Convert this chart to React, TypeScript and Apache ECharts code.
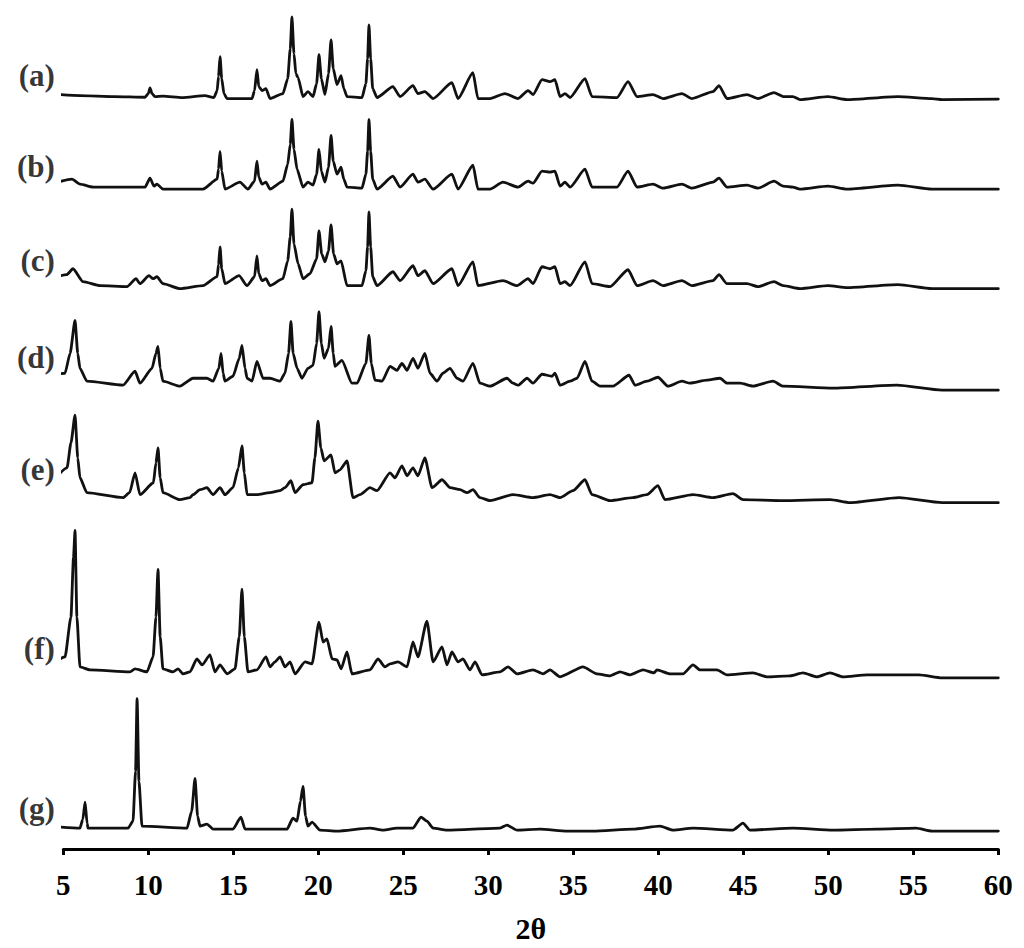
import React, { useEffect, useRef } from "react";
import * as echarts from "echarts";

// 2θ axis
const X_MIN = 5;
const X_MAX = 60;
const X_INTERVAL = 5;
const X_NAME = "2θ";

// Pattern labels, top to bottom
const patternLabels = ["(a)", "(b)", "(c)", "(d)", "(e)", "(f)", "(g)"];

// Vertical offset of each pattern (a.u.)
const offsets = [754, 663, 563, 463, 348, 173, 18];

// Pattern intensities [2θ, intensity a.u.]
const patternA: number[][] = [
  [4.12, 4.7], [6, 3], [8, 2], [9.81, 1.3], [10.0, 5], [10.1, 10.7], [10.22, 5], [10.39, 2], [10.86, 2.5],
  [12, 1], [13.33, 3], [13.86, 1], [14.05, 8], [14.13, 22], [14.22, 42], [14.32, 20], [14.45, 5], [14.63, 0],
  [16.1, 0], [16.25, 8], [16.39, 29], [16.5, 12], [16.69, 8], [16.92, 10], [17.16, 0], [17.92, 5], [18.2, 20],
  [18.35, 50], [18.45, 82], [18.57, 45], [18.68, 25], [18.81, 21], [19.1, 2], [19.39, 7], [19.69, 2], [19.9, 15],
  [20.04, 44], [20.18, 20], [20.39, 4], [20.6, 25], [20.75, 59], [20.88, 30], [21.1, 14], [21.34, 23], [21.5, 10],
  [21.69, 2], [22.57, 1], [22.8, 15], [22.9, 40], [22.98, 74], [23.08, 40], [23.2, 10], [23.45, 1], [24.39, 12],
  [24.81, 2], [25.57, 13], [25.86, 5], [26.27, 7], [26.75, 0], [27.86, 16], [28.22, 0], [29.1, 26], [29.39, 0],
  [30.1, 0], [30.98, 5], [31.75, 0], [32.34, 8], [32.63, 4], [33.16, 19], [33.63, 17], [33.92, 19], [34.22, 2],
  [34.51, 5], [34.81, 1], [35.69, 20], [36.1, 2], [37.57, 1], [38.22, 17], [38.75, 2], [39.69, 4], [40.28, 0],
  [41.39, 5], [41.98, 0], [43.22, 7], [43.57, 13], [44.04, 0], [45.22, 4], [45.86, 0], [46.81, 6], [47.34, 2],
  [47.92, 2], [48.33, -1], [49.98, 2], [51.1, -1], [54.1, 2], [56.1, 0], [56.69, -1], [60, -0.5],
];

const patternB: number[][] = [
  [4.12, 4.3], [5.51, 10], [5.98, 5], [6.75, 2], [9.81, 2], [10.1, 11], [10.34, 3], [10.51, 5], [10.86, 0],
  [13.22, 0], [14.05, 10], [14.13, 20], [14.22, 38], [14.32, 18], [14.51, 0], [15.39, 7], [15.86, 0], [16.25, 8],
  [16.39, 28], [16.5, 12], [16.69, 5], [16.92, 7], [17.16, 0], [17.92, 8], [18.2, 25], [18.35, 45], [18.45, 70],
  [18.57, 40], [18.75, 20], [19.1, 2], [19.39, 7], [19.69, 4], [19.9, 15], [20.04, 40], [20.18, 18], [20.39, 7],
  [20.6, 22], [20.75, 54], [20.88, 28], [21.1, 15], [21.34, 22], [21.5, 10], [21.69, 2], [22.57, 1], [22.8, 15],
  [22.9, 38], [22.98, 70], [23.08, 38], [23.2, 10], [23.45, 0], [24.39, 13], [24.81, 2], [25.57, 15], [25.86, 7],
  [26.27, 10], [26.75, 0], [27.86, 15], [28.22, 0], [29.1, 24], [29.39, 0], [30.1, 0], [30.86, 7], [31.75, 2],
  [32.34, 8], [32.63, 6], [33.16, 18], [33.63, 17], [33.92, 18], [34.22, 3], [34.51, 7], [34.81, 2], [35.69, 20],
  [36.1, 2], [37.57, 2], [38.22, 18], [38.75, 2], [39.69, 5], [40.28, 1], [41.39, 5], [41.98, 1], [43.22, 7],
  [43.57, 11], [44.04, 2], [45.22, 4], [45.86, 1], [46.81, 8], [47.34, 3], [47.92, 2], [48.33, 0], [49.98, 3],
  [51.1, 0], [54.1, 4], [56.1, 0], [60, 0],
];

const patternC: number[][] = [
  [4.12, 10], [5.2, 14], [5.57, 20], [6.16, 7], [7.16, 3], [8.75, 2], [9.28, 10], [9.51, 5], [10.04, 13],
  [10.28, 10], [10.51, 12], [10.86, 5], [11.86, 0], [13.22, 3], [14.05, 12], [14.13, 24], [14.22, 42], [14.32, 20],
  [14.51, 5], [15.34, 13], [15.81, 3], [16.25, 12], [16.39, 33], [16.5, 15], [16.69, 8], [16.92, 10], [17.16, 3],
  [17.92, 10], [18.2, 28], [18.35, 52], [18.45, 80], [18.57, 45], [18.81, 25], [19.1, 10], [19.51, 15], [19.9, 30],
  [20.04, 58], [20.2, 35], [20.39, 27], [20.6, 38], [20.75, 64], [20.9, 35], [21.1, 25], [21.34, 28], [21.69, 3],
  [22.57, 3], [22.8, 18], [22.9, 42], [22.98, 77], [23.08, 42], [23.2, 12], [23.45, 3], [24.39, 17], [24.81, 8],
  [25.57, 23], [25.86, 13], [26.27, 18], [26.75, 5], [27.86, 20], [28.22, 3], [29.1, 27], [29.39, 3], [30.86, 8],
  [31.69, 3], [32.34, 10], [32.63, 5], [33.16, 22], [33.63, 20], [33.92, 22], [34.22, 5], [34.51, 7], [34.81, 3],
  [35.69, 27], [36.1, 5], [37.16, 2], [38.22, 19], [38.75, 3], [39.69, 8], [40.28, 3], [41.39, 8], [41.98, 3],
  [43.22, 8], [43.57, 14], [44.04, 5], [45.22, 5], [45.86, 2], [46.81, 7], [47.34, 3], [48.33, 0], [49.98, 3],
  [51.1, 1], [54.1, 4], [56.1, 0], [60, 0],
];

const patternD: number[][] = [
  [4.12, 13], [5.1, 15], [5.4, 35], [5.69, 68], [5.85, 35], [5.98, 20], [6.39, 7], [8.51, 3], [9.22, 17],
  [9.51, 5], [10.22, 20], [10.45, 35], [10.57, 42], [10.7, 20], [10.86, 7], [11.86, 2], [12.63, 10], [13.45, 10],
  [13.81, 7], [14.15, 20], [14.28, 35], [14.4, 15], [14.51, 7], [14.98, 12], [15.35, 30], [15.51, 43], [15.69, 20],
  [15.81, 10], [16.1, 7], [16.39, 27], [16.75, 10], [17.16, 10], [17.75, 7], [18.04, 15], [18.25, 35], [18.39, 67],
  [18.52, 35], [18.75, 20], [19.04, 10], [19.39, 20], [19.69, 23], [19.9, 45], [20.04, 77], [20.18, 45],
  [20.34, 30], [20.6, 40], [20.75, 62], [20.88, 35], [20.98, 22], [21.39, 28], [21.98, 5], [22.28, 5], [22.8, 25],
  [22.98, 53], [23.12, 25], [23.33, 8], [23.75, 7], [24.22, 22], [24.63, 18], [24.92, 25], [25.22, 18], [25.57, 30],
  [25.86, 20], [26.27, 35], [26.57, 15], [26.98, 7], [27.33, 15], [27.75, 20], [28.16, 10], [28.51, 7], [29.1, 25],
  [29.51, 5], [30.1, 2], [31.1, 10], [31.45, 5], [31.75, 3], [32.28, 10], [32.63, 5], [33.16, 14], [33.75, 12],
  [33.92, 15], [34.22, 3], [34.81, 7], [35.22, 10], [35.69, 27], [36.1, 7], [36.57, 2], [37.33, 2], [38.28, 13],
  [38.63, 3], [39.33, 7], [39.98, 11], [40.57, 2], [41.39, 7], [41.86, 5], [42.86, 8], [43.63, 10], [44.04, 5],
  [44.81, 5], [45.57, 2], [46.75, 7], [47.34, 2], [50.28, 0], [54.04, 3], [56.69, -2], [60, -2],
];

const patternE: number[][] = [
  [4.12, 15], [5.22, 35], [5.45, 60], [5.69, 88], [5.85, 45], [5.98, 25], [6.39, 10], [8.51, 5], [8.9, 10],
  [9.22, 30], [9.51, 8], [10.3, 20], [10.45, 40], [10.57, 55], [10.7, 25], [10.86, 10], [11.86, 3], [12.45, 5],
  [12.63, 8], [13.04, 13], [13.45, 15], [13.81, 8], [14.22, 15], [14.51, 8], [14.98, 15], [15.3, 35], [15.51, 57],
  [15.65, 30], [15.81, 8], [16.39, 8], [17.16, 10], [17.75, 12], [18.04, 15], [18.39, 22], [18.63, 10], [19.1, 18],
  [19.63, 20], [19.8, 45], [19.98, 82], [20.15, 55], [20.34, 42], [20.75, 48], [20.98, 30], [21.28, 33], [21.69, 42],
  [22.04, 5], [22.45, 8], [23.04, 15], [23.45, 12], [24.22, 30], [24.51, 25], [24.92, 37], [25.22, 27], [25.57, 35],
  [25.86, 27], [26.27, 45], [26.69, 15], [27.28, 23], [27.75, 15], [28.34, 13], [28.75, 10], [29.1, 13], [29.51, 5],
  [30.1, 2], [31.45, 8], [32.63, 5], [33.63, 8], [34.22, 5], [34.98, 12], [35.69, 23], [36.1, 8], [37.16, 2],
  [38.51, 5], [39.33, 8], [39.98, 17], [40.39, 3], [42.04, 8], [43.22, 5], [44.39, 9], [44.98, 3], [47.34, 2],
  [50.1, 3], [51.28, 0], [54.16, 5], [56.69, 0], [60, 0],
];

const patternF: number[][] = [
  [4.12, 10], [5.1, 20], [5.45, 60], [5.6, 120], [5.69, 147], [5.8, 60], [5.98, 10], [6.57, 7], [8.92, 5],
  [9.22, 8], [9.92, 5], [10.28, 20], [10.45, 60], [10.57, 108], [10.7, 40], [10.86, 8], [11.45, 5], [11.75, 8],
  [12.04, 3], [12.45, 5], [12.86, 18], [13.16, 12], [13.63, 22], [13.92, 5], [14.22, 12], [14.63, 3], [15.1, 8],
  [15.35, 40], [15.51, 88], [15.65, 40], [15.86, 5], [16.39, 7], [16.92, 20], [17.16, 10], [17.45, 15], [17.75, 20],
  [18.04, 10], [18.34, 15], [18.63, 3], [19.22, 15], [19.63, 13], [20.04, 55], [20.28, 35], [20.51, 38], [20.81, 18],
  [21.1, 17], [21.34, 8], [21.69, 25], [21.98, 3], [23.04, 7], [23.51, 18], [23.92, 10], [24.22, 13], [24.69, 15],
  [25.22, 10], [25.57, 35], [25.86, 20], [26.39, 56], [26.75, 15], [27.28, 30], [27.57, 12], [27.86, 25], [28.22, 15],
  [28.51, 18], [28.92, 7], [29.22, 15], [29.63, 2], [30.69, 5], [31.16, 10], [31.69, 3], [32.63, 7], [33.22, 3],
  [33.63, 7], [34.22, 0], [35.57, 10], [36.39, 3], [37.16, 1], [37.75, 5], [38.34, 2], [39.1, 7], [39.75, 4],
  [39.92, 7], [40.69, 3], [41.45, 3], [42.04, 12], [42.45, 7], [43.45, 7], [44.04, 2], [45.57, 4], [46.39, 0],
  [47.75, 1], [48.51, 4], [49.33, 0], [50.1, 4], [50.86, 0], [52.28, 2], [55.33, 2], [56.69, -1], [60, -1],
];

const patternG: number[][] = [
  [4.12, 5], [5.98, 3], [6.15, 12], [6.28, 29], [6.4, 8], [6.45, 3], [8.81, 3], [9.1, 10], [9.25, 60], [9.34, 133],
  [9.45, 50], [9.63, 5], [12.28, 3], [12.55, 20], [12.75, 53], [12.9, 15], [13.04, 5], [13.45, 7], [13.81, 2],
  [14.98, 2], [15.45, 14], [15.69, 2], [18.16, 2], [18.51, 13], [18.75, 10], [18.95, 30], [19.1, 45], [19.25, 15],
  [19.39, 5], [19.63, 9], [20.1, 1], [21.1, 0], [23.04, 3], [23.81, 1], [24.63, 3], [25.57, 3], [26.04, 14],
  [26.39, 10], [26.75, 3], [27.57, 1], [30.69, 3], [31.1, 6], [31.69, 1], [33.04, 2], [34.63, 0], [36.16, 0],
  [38.51, 2], [40.1, 5], [40.86, 1], [42.04, 3], [44.39, 1], [44.98, 8], [45.39, 1], [47.92, 3], [50.28, 1],
  [52.86, 2], [55.16, 3], [56.1, 0], [60, 0],
];

const patterns = [patternA, patternB, patternC, patternD, patternE, patternF, patternG];

const FONT = "'Liberation Serif', 'Times New Roman', serif";

export default function App() {
  const ref = useRef<HTMLDivElement>(null);

  useEffect(() => {
    if (!ref.current) return;
    const chart = echarts.init(ref.current, undefined, { renderer: "svg" });

    const lineSeries = patterns.map((p, k) => ({
      type: "line",
      name: patternLabels[k],
      data: p.map(([x, v]) => [x, offsets[k] + v]),
      showSymbol: false,
      symbol: "none",
      clip: false,
      smooth: 0.2,
      smoothMonotone: "x",
      lineStyle: { color: "#111", width: 2.8, join: "round", cap: "round" },
      z: 2,
    }));

    const labelSeries = {
      type: "scatter",
      symbolSize: 1,
      itemStyle: { color: "rgba(0,0,0,0)" },
      clip: false,
      silent: true,
      data: patterns.map((p, k) => ({
        value: [p[0][0], offsets[k] + p[0][1]],
        name: patternLabels[k],
      })),
      label: {
        show: true,
        position: "left",
        distance: 0,
        offset: [7, -18],
        formatter: (d: any) => d.name,
        color: "#000",
        fontFamily: FONT,
        fontWeight: "bold",
        fontSize: 31,
      },
      z: 3,
    };

    chart.setOption({
      animation: false,
      backgroundColor: "#fff",
      grid: { left: 63.3, right: 25.7, top: 5, bottom: 95, containLabel: false },
      xAxis: {
        type: "value",
        min: X_MIN,
        max: X_MAX,
        interval: X_INTERVAL,
        name: X_NAME,
        nameLocation: "middle",
        nameGap: 64,
        nameTextStyle: { color: "#000", fontFamily: FONT, fontWeight: "bold", fontSize: 30 },
        axisLine: { show: true, lineStyle: { color: "#000", width: 3 } },
        axisTick: { show: true, inside: false, length: 6, lineStyle: { color: "#000", width: 3 } },
        axisLabel: { color: "#000", fontFamily: FONT, fontWeight: "bold", fontSize: 29, margin: 21 },
        splitLine: { show: false },
      },
      yAxis: { type: "value", min: 0, max: 848, show: false },
      series: [...lineSeries, labelSeries],
    });

    return () => chart.dispose();
  }, []);

  return (
    <div
      ref={ref}
      style={{ position: "absolute", left: 0, top: 0, width: 1024, height: 948, background: "#fff" }}
    />
  );
}
